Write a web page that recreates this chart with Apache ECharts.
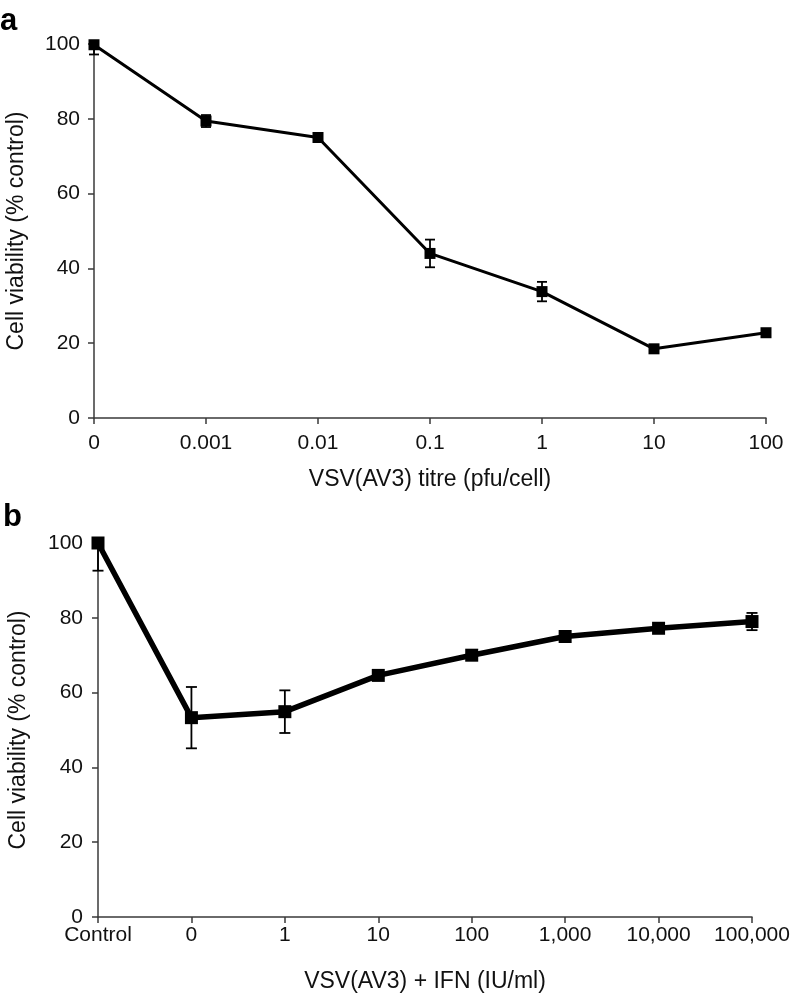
<!DOCTYPE html>
<html>
<head>
<meta charset="utf-8">
<script src="https://cdn.jsdelivr.net/npm/echarts@6/dist/echarts.min.js"></script>
<style>html,body{margin:0;padding:0;background:#fff}#c{width:793px;height:995px}</style>
</head>
<body>
<div id="c"></div>
<script>
var catsA = ['0', '0.001', '0.01', '0.1', '1', '10', '100'];
var valsA = [99.8, 79.4, 75.0, 44.0, 33.8, 18.5, 22.8];
var errA = [2.6, 1.6, 0.8, 3.7, 2.6, 0.6, 0.6];

var catsB = ['Control', '0', '1', '10', '100', '1,000', '10,000', '100,000'];
var valsB = [100, 53.3, 54.9, 64.6, 70.0, 75.0, 77.2, 79.0];
var errB = [7.4, 8.2, 5.7, 0.8, 0.8, 1.0, 1.2, 2.3];

var yTicks = [0, 20, 40, 60, 80, 100];
var titleA = 'VSV(AV3) titre (pfu/cell)';
var titleB = 'VSV(AV3) + IFN (IU/ml)';
var yTitle = 'Cell viability (% control)';

var FONT = '"Liberation Sans", Arial, Helvetica, sans-serif';
var AXC = '#3a3a3a';

function errData(vals, errs) {
  return vals.map(function (v, i) { return [i, v - errs[i], v + errs[i]]; });
}

function errRender(capW, lw) {
  return function (params, api) {
    var x = api.value(0);
    var lo = api.value(1), hi = api.value(2);
    var topCap = true;
    if (hi > 100) { hi = 100; topCap = false; }
    var pLo = api.coord([x, lo]);
    var pHi = api.coord([x, hi]);
    var st = { stroke: '#000', lineWidth: lw };
    var ch = [
      { type: 'line', shape: { x1: pLo[0], y1: pLo[1], x2: pHi[0], y2: pHi[1] }, style: st },
      { type: 'line', shape: { x1: pLo[0] - capW / 2, y1: pLo[1], x2: pLo[0] + capW / 2, y2: pLo[1] }, style: st }
    ];
    if (topCap) ch.push({ type: 'line', shape: { x1: pHi[0] - capW / 2, y1: pHi[1], x2: pHi[0] + capW / 2, y2: pHi[1] }, style: st });
    return { type: 'group', children: ch };
  };
}

function xAx(idx, cats, name, margin, gap) {
  return {
    type: 'category', gridIndex: idx, data: cats, boundaryGap: false,
    axisLine: { lineStyle: { color: AXC, width: 1.5 } },
    axisTick: { alignWithLabel: true, length: 6, lineStyle: { color: AXC, width: 1.5 } },
    axisLabel: { color: '#111', fontSize: 21, fontFamily: FONT, margin: margin, interval: 0 },
    name: name, nameLocation: 'middle', nameGap: gap,
    nameTextStyle: { color: '#111', fontSize: 23, fontFamily: FONT }
  };
}
function yAx(idx, gap, lm) {
  return {
    type: 'value', gridIndex: idx, min: 0, max: 100, interval: 20,
    splitLine: { show: false },
    axisLine: { show: true, lineStyle: { color: AXC, width: 1.5 } },
    axisTick: { show: true, length: 6, lineStyle: { color: AXC, width: 1.5 } },
    axisLabel: { color: '#111', fontSize: 21, fontFamily: FONT, margin: lm,
      formatter: function (v) { return yTicks.indexOf(v) >= 0 ? String(v) : ''; } },
    name: yTitle, nameLocation: 'middle', nameGap: gap,
    nameTextStyle: { color: '#111', fontSize: 23, fontFamily: FONT }
  };
}

var chart = echarts.init(document.getElementById('c'), null, { renderer: 'canvas' });
chart.setOption({
  backgroundColor: '#fff',
  animation: false,
  title: [
    { text: 'a', left: 0, top: 6, padding: 0, textStyle: { fontSize: 31, fontWeight: 'bold', fontFamily: FONT, color: '#000' } },
    { text: 'b', left: 3, top: 502, padding: 0, textStyle: { fontSize: 31, fontWeight: 'bold', fontFamily: FONT, color: '#000' } }
  ],
  grid: [
    { left: 94, right: 27, top: 44, height: 374, containLabel: false, outerBoundsMode: 'none' },
    { left: 98, right: 41, top: 543, height: 374, containLabel: false, outerBoundsMode: 'none' }
  ],
  xAxis: [xAx(0, catsA, titleA, 15, 50), xAx(1, catsB, titleB, 8, 53)],
  yAxis: [yAx(0, 66, 14), yAx(1, 68, 15)],
  series: [
    { type: 'custom', xAxisIndex: 0, yAxisIndex: 0, data: errData(valsA, errA), renderItem: errRender(10, 1.8), z: 3 },
    { type: 'line', xAxisIndex: 0, yAxisIndex: 0, data: valsA, symbol: 'rect', symbolSize: 11,
      lineStyle: { color: '#000', width: 3 }, itemStyle: { color: '#000' }, z: 4 },
    { type: 'custom', xAxisIndex: 1, yAxisIndex: 1, data: errData(valsB, errB), renderItem: errRender(11, 1.8), z: 3 },
    { type: 'line', xAxisIndex: 1, yAxisIndex: 1, data: valsB, symbol: 'rect', symbolSize: 13,
      lineStyle: { color: '#000', width: 5.5 }, itemStyle: { color: '#000' }, z: 4 }
  ]
});
</script>
</body>
</html>
